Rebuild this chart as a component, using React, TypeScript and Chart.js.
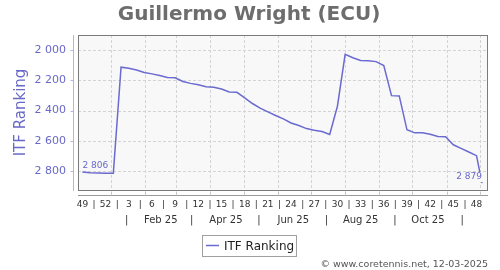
import { useEffect, useRef } from 'react';
import { Chart, registerables } from 'chart.js';

Chart.register(...registerables);

const TITLE = 'Guillermo Wright (ECU)';
const SERIES_NAME = 'ITF Ranking';
const CREDIT = '© www.coretennis.net, 12-03-2025';

const DATES = [
  '2024-12-06', '2024-12-13', '2024-12-20', '2024-12-27',
  '2025-01-03', '2025-01-10', '2025-01-17', '2025-01-24', '2025-01-31',
  '2025-02-07', '2025-02-14', '2025-02-21', '2025-02-28',
  '2025-03-07', '2025-03-14', '2025-03-21', '2025-03-28',
  '2025-04-04', '2025-04-11', '2025-04-18', '2025-04-25',
  '2025-05-02', '2025-05-09', '2025-05-16', '2025-05-23', '2025-05-30',
  '2025-06-06', '2025-06-13', '2025-06-20', '2025-06-27',
  '2025-07-04', '2025-07-11', '2025-07-18', '2025-07-25',
  '2025-08-01', '2025-08-08', '2025-08-15', '2025-08-22', '2025-08-29',
  '2025-09-05', '2025-09-12', '2025-09-19', '2025-09-26',
  '2025-10-03', '2025-10-10', '2025-10-17', '2025-10-24', '2025-10-31',
  '2025-11-07', '2025-11-14', '2025-11-21', '2025-11-28',
  '2025-12-03',
];

const RANKING = [
  2806, 2811, 2813, 2814,
  2814, 2113, 2120, 2131, 2148,
  2157, 2168, 2181, 2183,
  2207, 2220, 2229, 2242,
  2246, 2257, 2277, 2279,
  2316, 2353, 2384, 2408, 2432,
  2455, 2482, 2499, 2519,
  2530, 2538, 2558, 2371,
  2028, 2050, 2068, 2070, 2076,
  2102, 2301, 2303, 2527,
  2547, 2547, 2556, 2571, 2573,
  2626, 2650, 2674, 2698,
  2879,
];

const WEEK_TICK_LABELS = ['49', '52', '3', '6', '9', '12', '15', '18', '21', '24', '27', '30', '33', '36', '39', '42', '45', '48'];
const MONTH_ROW_LABELS = ['|', 'Feb 25', '|', 'Apr 25', '|', 'Jun 25', '|', 'Aug 25', '|', 'Oct 25', '|'];
const GRID_MONTHS = ['2025-01-01', '2025-02-01', '2025-03-01', '2025-04-01', '2025-05-01', '2025-06-01', '2025-07-01', '2025-08-01', '2025-09-01', '2025-10-01', '2025-11-01', '2025-12-01'];
const MONTH_ROW_DATES = ['2025-01-15', '2025-02-15', '2025-03-15', '2025-04-15', '2025-05-15', '2025-06-15', '2025-07-15', '2025-08-15', '2025-09-15', '2025-10-15', '2025-11-15'];
const Y_TICKS = [2000, 2200, 2400, 2600, 2800];
const Y_MIN = 1900;
const Y_MAX = 2925;

const FONT = "'DejaVu Sans', sans-serif";
const LINE_COLOR = '#6a6ad0';
const AXIS_TEXT = '#6868c8';

const dayOf = (s: string) => {
  const [y, m, d] = s.split('-').map(Number);
  return (Date.UTC(y, m - 1, d) - Date.UTC(2025, 0, 1)) / 86400000;
};

const X_MIN = dayOf('2024-12-02');
const X_MAX = dayOf('2025-12-07') + 0.5;

const fmtThousands = (v: number) => {
  const s = String(Math.round(v));
  return s.replace(/\B(?=(\d{3})+(?!\d))/g, ' ');
};

export default function App() {
  const ref = useRef<HTMLCanvasElement | null>(null);

  useEffect(() => {
    document.body.style.margin = '0';
    const canvas = ref.current;
    if (!canvas) return;

    const points = DATES.map((d, i) => ({ x: dayOf(d), y: RANKING[i] }));

    const weekMap = new Map<number, string>();
    const weekTickVals: number[] = [];
    WEEK_TICK_LABELS.forEach((lab, i) => {
      const v = dayOf(DATES[i * 3]);
      weekMap.set(v, lab);
      weekTickVals.push(v);
      if (i < WEEK_TICK_LABELS.length - 1) {
        const nv = dayOf(DATES[(i + 1) * 3]);
        const mid = (v + nv) / 2;
        weekMap.set(mid, '|');
        weekTickVals.push(mid);
      }
    });

    const monthMap = new Map<number, string>();
    const monthVals = MONTH_ROW_DATES.map((d, i) => {
      const v = dayOf(d);
      monthMap.set(v, MONTH_ROW_LABELS[i]);
      return v;
    });

    const gridDays = GRID_MONTHS.map(dayOf);

    const deco = {
      id: 'deco',
      beforeDraw(chart: any) {
        const { ctx, chartArea: a } = chart;
        ctx.save();
        ctx.fillStyle = '#ffffff';
        ctx.fillRect(0, 0, chart.width, chart.height);
        ctx.fillStyle = '#f8f8f8';
        ctx.fillRect(a.left, a.top, a.right - a.left, a.bottom - a.top);
        ctx.strokeStyle = '#d4d4d4';
        ctx.lineWidth = 1;
        ctx.setLineDash([3, 2]);
        const ys = chart.scales.y;
        const xs = chart.scales.x;
        Y_TICKS.forEach((v) => {
          const py = Math.round(ys.getPixelForValue(v)) + 0.5;
          ctx.beginPath();
          ctx.moveTo(a.left, py);
          ctx.lineTo(a.right, py);
          ctx.stroke();
        });
        gridDays.forEach((d) => {
          const px = Math.round(xs.getPixelForValue(d)) + 0.5;
          ctx.beginPath();
          ctx.moveTo(px, a.top);
          ctx.lineTo(px, a.bottom);
          ctx.stroke();
        });
        ctx.restore();
      },
      afterDatasetsDraw(chart: any) {
        const { ctx, chartArea: a } = chart;
        const ys = chart.scales.y;
        const xs = chart.scales.x;
        ctx.save();
        // plot border
        ctx.strokeStyle = '#7a7a7a';
        ctx.lineWidth = 1;
        ctx.strokeRect(Math.round(a.left) + 0.5, Math.round(a.top) + 0.5, Math.round(a.right - a.left), Math.round(a.bottom - a.top));
        // y axis line (offset)
        const yx = Math.round(a.left) - 5 + 0.5;
        ctx.strokeStyle = '#b4b4dc';
        ctx.beginPath();
        ctx.moveTo(yx, a.top);
        ctx.lineTo(yx, a.bottom + 1);
        ctx.stroke();
        Y_TICKS.forEach((v) => {
          const py = Math.round(ys.getPixelForValue(v)) + 0.5;
          ctx.beginPath();
          ctx.moveTo(yx - 3, py);
          ctx.lineTo(yx, py);
          ctx.stroke();
        });
        // x axis line (offset)
        const xy = Math.round(a.bottom) + 5 + 0.5;
        ctx.strokeStyle = '#9a9a9a';
        ctx.beginPath();
        ctx.moveTo(a.left, xy);
        ctx.lineTo(a.right + 1, xy);
        ctx.stroke();
        ctx.strokeStyle = '#c8c8c8';
        gridDays.forEach((d) => {
          const px = Math.round(xs.getPixelForValue(d)) + 0.5;
          ctx.beginPath();
          ctx.moveTo(px, xy - 4);
          ctx.lineTo(px, xy);
          ctx.stroke();
        });
        // value labels at first and last point
        const meta = chart.getDatasetMeta(0);
        const first = meta.data[0];
        const last = meta.data[meta.data.length - 1];
        ctx.font = `9px ${FONT}`;
        ctx.textBaseline = 'alphabetic';
        const drawLabel = (txt: string, px: number, py: number, align: 'left' | 'right') => {
          const w = ctx.measureText(txt).width;
          const lx = align === 'left' ? px : px - w;
          ctx.fillStyle = '#f8f8f8';
          ctx.fillRect(lx - 1, py - 11, w + 2, 10);
          ctx.fillStyle = AXIS_TEXT;
          ctx.textAlign = 'left';
          ctx.fillText(txt, lx, py - 4);
        };
        drawLabel(fmtThousands(RANKING[0]), first.x, first.y, 'left');
        drawLabel(fmtThousands(RANKING[RANKING.length - 1]), last.x, last.y, 'right');
        ctx.restore();
      },
      afterDraw(chart: any) {
        const { ctx } = chart;
        ctx.save();
        // title
        ctx.font = `bold 20px ${FONT}`;
        ctx.fillStyle = '#6d6d6d';
        ctx.textAlign = 'center';
        ctx.textBaseline = 'alphabetic';
        ctx.fillText(TITLE, 249, 20);
        // legend
        ctx.fillStyle = '#ffffff';
        ctx.fillRect(202.5, 235.5, 94, 21);
        ctx.strokeStyle = '#a0a0a0';
        ctx.lineWidth = 1;
        ctx.strokeRect(202.5, 235.5, 94, 21);
        ctx.strokeStyle = LINE_COLOR;
        ctx.lineWidth = 1.5;
        ctx.beginPath();
        ctx.moveTo(206, 245.5);
        ctx.lineTo(219, 245.5);
        ctx.stroke();
        ctx.font = `12px ${FONT}`;
        ctx.fillStyle = '#222222';
        ctx.textAlign = 'left';
        ctx.fillText(SERIES_NAME, 224, 250);
        // credit
        ctx.font = `9.5px ${FONT}`;
        ctx.fillStyle = '#555555';
        ctx.textAlign = 'right';
        ctx.fillText(CREDIT, 488, 267);
        ctx.restore();
      },
    };

    const chart = new Chart(canvas, {
      type: 'line',
      data: {
        datasets: [
          {
            label: SERIES_NAME,
            data: points,
            borderColor: LINE_COLOR,
            borderWidth: 1.5,
            pointRadius: 0,
            tension: 0,
            fill: false,
            xAxisID: 'x',
            yAxisID: 'y',
          },
        ],
      },
      options: {
        responsive: false,
        animation: false,
        events: [],
        layout: { padding: { left: 0, top: 35, right: 13, bottom: 42 } },
        plugins: {
          legend: { display: false },
          title: { display: false },
          tooltip: { enabled: false },
        },
        scales: {
          x: {
            type: 'linear',
            position: 'bottom',
            weight: 0,
            min: X_MIN,
            max: X_MAX,
            grid: { display: false, drawTicks: false },
            border: { display: false },
            afterBuildTicks: (s: any) => {
              s.ticks = weekTickVals.map((v) => ({ value: v }));
            },
            afterFit: (s: any) => {
              s.height = 20;
            },
            ticks: {
              autoSkip: false,
              maxRotation: 0,
              minRotation: 0,
              padding: 9,
              color: '#333333',
              font: { family: FONT, size: 9 },
              callback: (v: any) => weekMap.get(Number(v)) ?? '',
            },
          },
          x2: {
            type: 'linear',
            position: 'bottom',
            weight: 1,
            min: X_MIN,
            max: X_MAX,
            grid: { display: false, drawTicks: false },
            border: { display: false },
            afterBuildTicks: (s: any) => {
              s.ticks = monthVals.map((v) => ({ value: v }));
            },
            afterFit: (s: any) => {
              s.height = 18;
            },
            ticks: {
              autoSkip: false,
              maxRotation: 0,
              minRotation: 0,
              padding: 4,
              color: '#333333',
              font: { family: FONT, size: 10 },
              callback: (v: any) => monthMap.get(Number(v)) ?? '',
            },
          },
          y: {
            type: 'linear',
            reverse: true,
            min: Y_MIN,
            max: Y_MAX,
            grid: { display: false, drawTicks: false },
            border: { display: false },
            afterBuildTicks: (s: any) => {
              s.ticks = Y_TICKS.map((v) => ({ value: v }));
            },
            afterFit: (s: any) => {
              s.width = 78;
            },
            ticks: {
              padding: 12,
              color: AXIS_TEXT,
              font: { family: FONT, size: 11 },
              callback: (v: any) => fmtThousands(Number(v)),
            },
            title: {
              display: true,
              text: SERIES_NAME,
              color: AXIS_TEXT,
              font: { family: FONT, size: 15 },
              padding: { top: 11.7, bottom: 0 },
            },
          },
        },
      },
      plugins: [deco],
    });

    return () => chart.destroy();
  }, []);

  return (
    <div style={{ width: 500, height: 270 }}>
      <canvas ref={ref} width={500} height={270} style={{ display: 'block' }} />
    </div>
  );
}
